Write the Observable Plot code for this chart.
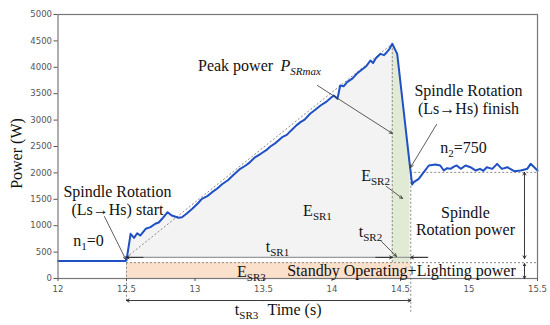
<!DOCTYPE html>
<html>
<head>
<meta charset="utf-8">
<script src="https://cdn.jsdelivr.net/npm/d3@7"></script>
<script src="https://cdn.jsdelivr.net/npm/@observablehq/plot@0.6"></script>
<style>
  html, body { margin: 0; padding: 0; background: #fff; }
</style>
</head>
<body>
<div id="chart"></div>
<script>
// ---- data ----
const time = [12.00,12.10,12.20,12.30,12.40,12.49,12.50,12.53,12.555,12.578,12.60,12.64,12.675,12.71,12.735,12.76,12.80,12.83,12.88,12.905,12.94,12.98,13.02,13.05,13.09,13.125,13.16,13.20,13.24,13.28,13.33,13.37,13.40,13.44,13.48,13.52,13.55,13.59,13.636,13.67,13.70,13.74,13.77,13.80,13.84,13.88,13.916,13.96,13.99,14.013,14.04,14.06,14.085,14.11,14.15,14.18,14.21,14.25,14.28,14.30,14.32,14.354,14.38,14.40,14.42,14.44,14.476,14.57,14.585,14.597,14.633,14.67,14.707,14.755,14.79,14.816,14.84,14.865,14.89,14.91,14.94,14.975,15.01,15.05,15.08,15.105,15.13,15.17,15.205,15.24,15.28,15.33,15.376,15.40,15.425,15.45,15.50];
const power = [330,332,330,331,330,330,345,846,770,858,814,941,972,1036,1060,1131,1256,1193,1150,1161,1230,1320,1420,1509,1560,1635,1700,1790,1860,1960,2077,2140,2200,2300,2362,2430,2500,2570,2677,2720,2800,2900,2961,3010,3120,3200,3277,3350,3420,3466,3403,3655,3640,3718,3790,3876,3939,4020,4129,4080,4170,4255,4230,4286,4350,4445,4255,2100,1780,1824,1888,2013,2140,2159,2140,2045,2090,2077,2120,2140,2077,2140,2108,2045,2077,2040,2108,2077,2172,2077,2108,2032,2045,2060,2077,2172,2045];
const xTicks = [12, 12.5, 13, 13.5, 14, 14.5, 15, 15.5];
const yTicks = [0, 500, 1000, 1500, 2000, 2500, 3000, 3500, 4000, 4500, 5000];

// key levels / instants
const tStart = 12.5, tPeak = 14.44, tFinish = 14.575;
const standby = 300, sr1Level = 400, rotLevel = 2010, peakPower = 4445, startPower = 345, finishPower = 2100;

// annotation texts (data coordinates)
const notes = [
  {x: 12.434, y: 1650, text: "Spindle Rotation"},
  {x: 12.434, y: 1300, text: "(Ls→Hs) start"},
  {x: 12.223, y: 720,  text: "n_{1}=0"},
  {x: 13.894, y: 1288, text: "E_{SR1}"},
  {x: 13.602, y: 606,  text: "t_{SR1}"},
  {x: 13.412, y: 133,  text: "E_{SR3}"},
  {x: 14.507, y: 152,  text: "Standby Operating+Lighting power"},
  {x: 13.376, y: -587, text: "t_{SR3}"},
  {x: 13.726, y: -587, text: "Time (s)"},
  {x: 13.296, y: 4034, text: "Peak power"},
  {x: 14.996, y: 3561, text: "Spindle Rotation"},
  {x: 14.996, y: 3220, text: "(Ls→Hs) finish"},
  {x: 14.960, y: 2481, text: "n_{2}=750"},
  {x: 14.318, y: 1951, text: "E_{SR2}"},
  {x: 14.281, y: 890,  text: "t_{SR2}"},
  {x: 14.974, y: 1250, text: "Spindle"},
  {x: 14.974, y: 928,  text: "Rotation power"}
];
const italicNotes = [{x: 13.624, y: 4034, text: "P_{SRmax}"}];
const yLabel = [{x: 11.697, y: 2367, text: "Power (W)"}];

// annotation arrows (data coordinates)
const pointers = [
  {x1: 12.339, y1: 1174, x2: 12.495, y2: 360},   // start
  {x1: 13.894, y1: 3655, x2: 14.441, y2: 2746},  // peak power
  {x1: 14.763, y1: 2917, x2: 14.573, y2: 2102},  // finish
  {x1: 14.398, y1: 1742, x2: 14.515, y2: 1515},  // E_SR2
  {x1: 14.361, y1: 701,  x2: 14.471, y2: 417}    // t_SR2
];
const heads = [
  {x1: 12.62, y1: sr1Level, x2: tStart, y2: sr1Level},
  {x1: 14.32, y1: sr1Level, x2: tPeak, y2: sr1Level},
  {x1: 14.70, y1: sr1Level, x2: tFinish, y2: sr1Level},
  {x1: 13.50, y1: -417, x2: tStart, y2: -417},
  {x1: 13.50, y1: -417, x2: tFinish, y2: -417},
  {x1: 15.405, y1: 1200, x2: 15.405, y2: rotLevel},
  {x1: 15.405, y1: 1200, x2: 15.405, y2: 380},
  {x1: 15.405, y1: 150, x2: 15.405, y2: standby - 20},
  {x1: 15.405, y1: 150, x2: 15.405, y2: 0}
];

const data = time.map((t, i) => ({t, p: power[i]}));
const serif = "'Liberation Serif', 'Times New Roman', serif";

const chart = Plot.plot({
  width: 550,
  height: 325,
  marginLeft: 57.5,
  marginRight: 13,
  marginTop: 14,
  marginBottom: 47,
  x: {domain: [12, 15.5]},
  y: {domain: [0, 5000]},
  style: {fontFamily: "'DejaVu Sans'", fontSize: "8.5px", color: "#555", background: "#fff"},
  marks: [
    // fills
    Plot.rect([{}], {x1: tStart, x2: tFinish, y1: 0, y2: standby, fill: "#fbe0cc"}),
    Plot.areaY(data.filter(d => d.t >= tStart && d.t <= tPeak), {x: "t", y1: sr1Level, y2: "p", fill: "#f3f3f3"}),
    Plot.areaY(data.filter(d => d.t >= tPeak && d.t <= tFinish), {x: "t", y1: standby, y2: "p", fill: "#e1ead5"}),
    // reference lines
    Plot.ruleY([standby], {x1: tStart, x2: 15.5, stroke: "#888", strokeDasharray: "2,2"}),
    Plot.ruleY([sr1Level], {x1: tStart, x2: 14.7, stroke: "#999", strokeWidth: 1.2}),
    Plot.ruleY([rotLevel], {x1: tFinish, x2: 15.5, stroke: "#888", strokeDasharray: "2,2"}),
    Plot.link([{}], {x1: tStart, y1: sr1Level, x2: tPeak, y2: peakPower, stroke: "#888", strokeDasharray: "2,2"}),
    Plot.ruleX([tStart], {y1: -430, y2: startPower, stroke: "#888", strokeDasharray: "2,2"}),
    Plot.ruleX([tPeak], {y1: standby, y2: peakPower, stroke: "#888", strokeDasharray: "2,2"}),
    Plot.ruleX([tFinish], {y1: -640, y2: finishPower, stroke: "#888", strokeDasharray: "2,2"}),
    // power curve
    Plot.line(data, {x: "t", y: "p", stroke: "#1f50c4", strokeWidth: 2}),
    // frame and axes
    Plot.frame({stroke: "#777", strokeWidth: 1.2}),
    Plot.axisX({ticks: xTicks, tickSize: 3, tickPadding: 4, label: null, tickFormat: d => String(d)}),
    Plot.axisY({ticks: yTicks, tickSize: 4, tickPadding: 2, label: null, tickFormat: d => String(d)}),
    // arrows
    Plot.arrow(pointers, {x1: "x1", y1: "y1", x2: "x2", y2: "y2", stroke: "#333", strokeWidth: 0.8, headLength: 6, headAngle: 50}),
    Plot.arrow(heads, {x1: "x1", y1: "y1", x2: "x2", y2: "y2", stroke: "#222", strokeWidth: 0.9, headLength: 5, headAngle: 60}),
    // texts
    Plot.text(notes, {x: "x", y: "y", text: "text", fontFamily: serif, fontSize: 16, fill: "#111", lineAnchor: "middle"}),
    Plot.text(italicNotes, {x: "x", y: "y", text: "text", fontFamily: serif, fontSize: 16, fontStyle: "italic", fill: "#111", textAnchor: "start", lineAnchor: "middle"}),
    Plot.text(yLabel, {x: "x", y: "y", text: "text", fontFamily: serif, fontSize: 16, fill: "#111", rotate: -90, lineAnchor: "middle"})
  ]
});

// render "_{...}" as subscripts
chart.querySelectorAll("text").forEach(t => {
  const s = t.textContent;
  if (!s.includes("_{")) return;
  const re = /_\{([^}]*)\}/g;
  const parts = [];
  let last = 0, m;
  while ((m = re.exec(s))) {
    if (m.index > last) parts.push([s.slice(last, m.index), false]);
    parts.push([m[1], true]);
    last = re.lastIndex;
  }
  if (last < s.length) parts.push([s.slice(last), false]);
  t.textContent = "";
  let shifted = false;
  for (const [str, sub] of parts) {
    const ts = document.createElementNS("http://www.w3.org/2000/svg", "tspan");
    ts.textContent = str;
    if (sub) {
      ts.setAttribute("font-size", "11");
      if (!shifted) { ts.setAttribute("dy", "4"); shifted = true; }
    } else if (shifted) {
      ts.setAttribute("dy", "-4");
      shifted = false;
    }
    t.appendChild(ts);
  }
});

document.getElementById("chart").appendChild(chart);
</script>
</body>
</html>
